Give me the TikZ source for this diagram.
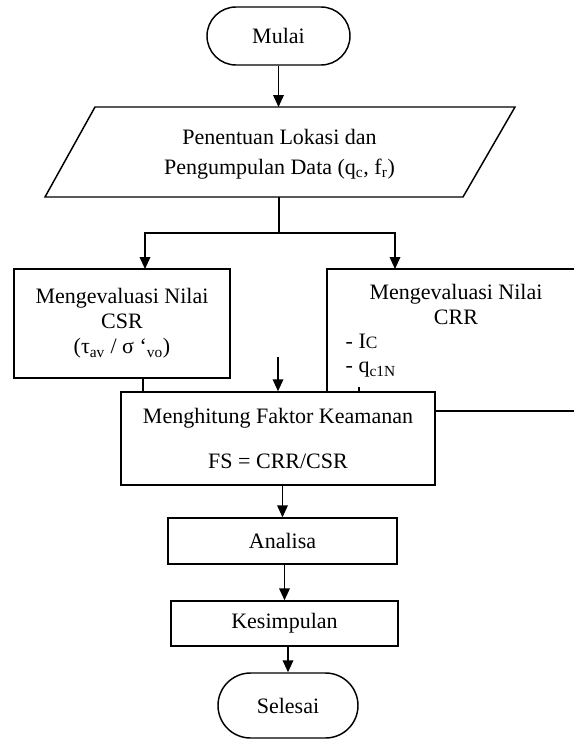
\documentclass[tikz,border=0pt]{standalone}
\usepackage{fontspec}
\setmainfont{Liberation Serif}
\usetikzlibrary{shapes.misc,arrows.meta}

\begin{document}
\begin{tikzpicture}[x=0.75pt,y=0.75pt,yscale=-1,xscale=1,
  font=\fontsize{16.5}{18.75}\selectfont,
  line width=1.1pt,
  terminal/.style={draw,rounded rectangle,inner sep=0pt},
  box/.style={draw,fill=white,rectangle,inner sep=0pt,align=center},
  arr/.style={-{Triangle[length=9pt,width=8pt]}}]
\useasboundingbox (0,0) rectangle (574,739);
\clip (0,0) rectangle (574,739);

%Terminator: Mulai
\node (mulai) [terminal,minimum width=107.25pt,minimum height=43.5pt] at (278.5,36) {Mulai};

%Shape: Parallelogram
\draw (95,107) -- (515,107) -- (463,197) -- (45,197) -- cycle ;
\coordinate (datatop) at (280,107);
\coordinate (databot) at (279,197);
% Text Node
\node (data) [align=center] at (279.5,154) {Penentuan Lokasi dan\\[3.75pt]Pengumpulan Data (q\textsubscript{c}, f\textsubscript{r})};

%Branch
\coordinate (split) at (279,233);
\coordinate (csrin) at (145,269);
\coordinate (crrin) at (395,269);

%Box: CSR
\node (csr) [box,minimum width=162pt,minimum height=81.75pt] at (122,323.5) {Mengevaluasi Nilai\\CSR\\(τ\textsubscript{av} / σ ‘\textsubscript{vo})};

%Box: CRR (runs off the page)
\draw (327,269) rectangle (600,411) ;
% Text Node
\node (crr) [align=center] at (456,304.5) {Mengevaluasi Nilai\\CRR};
% Text Node
\node (ic) [anchor=west,inner sep=0pt] at (345,341) {- I{\fontsize{13}{13}\selectfont C}};
% Text Node
\node (qc) [anchor=west,inner sep=0pt] at (345,370) {- q\textsubscript{c1N}};
\draw [line width=0.8pt] (359,387) -- (359,392) ;

%Box: Faktor Keamanan
\node (fs) [box,minimum width=235.5pt,minimum height=69.75pt] at (278,438.5) {Menghitung Faktor Keamanan\\[15pt]FS = CRR/CSR};
\coordinate (fsin) at (278,357);

%Box: Analisa
\node (analisa) [box,minimum width=171.75pt,minimum height=34.5pt] at (282.5,541) {Analisa};
%Box: Kesimpulan
\node (kesimpulan) [box,minimum width=170.25pt,minimum height=33.75pt] at (284.5,623.5) {Kesimpulan};
%Terminator: Selesai
\node (selesai) [terminal,minimum width=105pt,minimum height=48.75pt] at (288,705.5) {Selesai};

%Straight Lines
\draw [arr] (mulai.south) -- (mulai.south |- datatop) ;
\draw (databot) -- (split) ;
\draw [arr] (split) -| (csrin) ;
\draw [arr] (split) -| (crrin) ;
\draw ([xshift=15.75pt]csr.south) -- ([xshift=15.75pt]csr.south |- fs.north) ;
\draw [arr] (fsin) -- (fsin |- fs.north) ;
\draw (fs.east |- 0,411) -- (574,411) ;
\draw [arr] (analisa.north |- fs.south) -- (analisa.north) ;
\draw [arr] (kesimpulan.north |- analisa.south) -- (kesimpulan.north) ;
\draw [arr] (selesai.north |- kesimpulan.south) -- (selesai.north) ;
\end{tikzpicture}
\end{document}
